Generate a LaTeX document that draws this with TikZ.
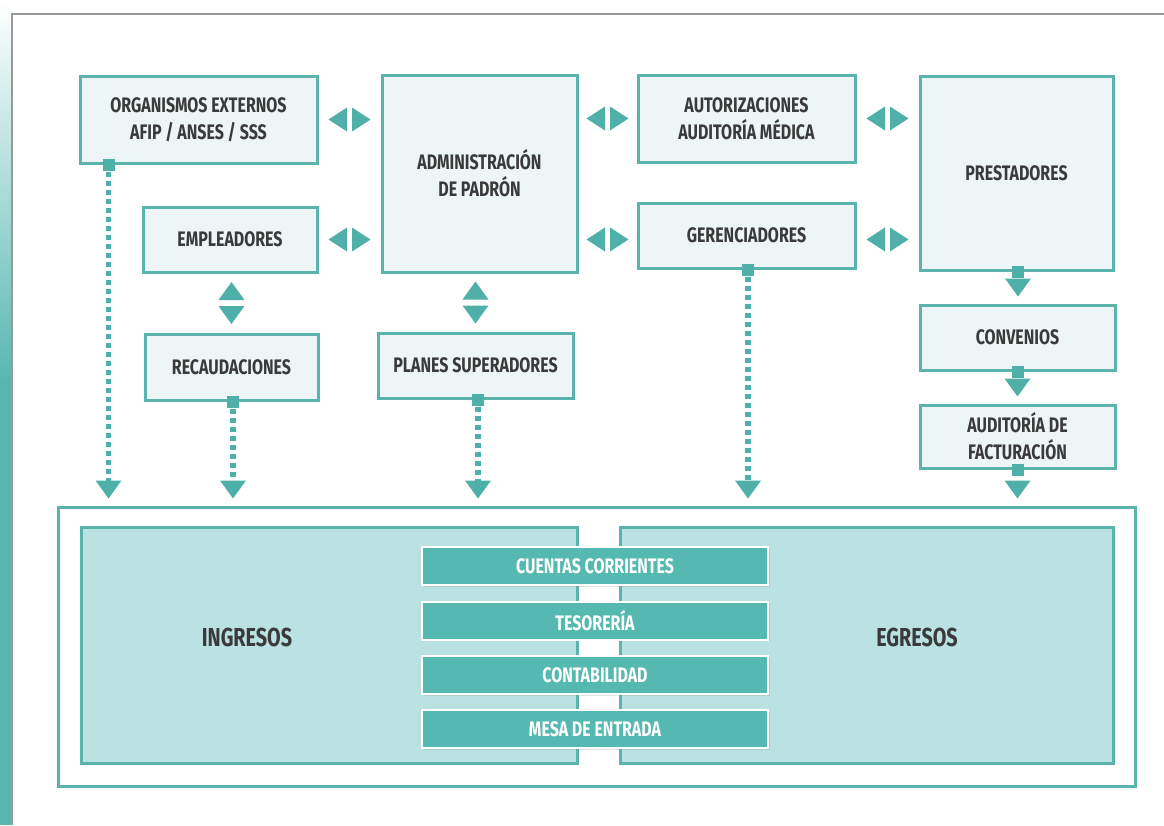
\documentclass[tikz,border=0pt]{standalone}
\usepackage{fontspec}
\setmainfont{Fira Sans}[FakeStretch=0.76]
\usetikzlibrary{calc,shadows}
\definecolor{tealB}{RGB}{90,180,172}
\definecolor{tealA}{RGB}{78,176,168}
\definecolor{barT}{RGB}{86,185,177}
\definecolor{panelT}{RGB}{186,226,226}
\definecolor{boxF}{RGB}{238,245,246}
\definecolor{txtG}{RGB}{58,58,58}
\definecolor{stripT}{RGB}{88,184,176}
\begin{document}
\begin{tikzpicture}[x=1pt,y=-1pt,
  box/.style={draw=tealB, line width=3pt, fill=boxF, text=txtG,
    font=\fontsize{21}{27}\selectfont\bfseries, align=center, inner sep=0pt,
    drop shadow={shadow xshift=1.5pt, shadow yshift=-1.5pt, opacity=0.18}},
  panel/.style={draw=tealB, line width=3pt, fill=panelT, inner sep=0pt},
  bigtxt/.style={text=txtG, font=\fontsize{26}{28}\selectfont\bfseries, inner sep=2pt},
  bar/.style={draw=white, line width=2pt, fill=barT, text=white,
    font=\fontsize{21}{22}\selectfont\bfseries, minimum width=346pt,
    minimum height=38pt, inner sep=0pt,
    drop shadow={shadow xshift=1.5pt, shadow yshift=-1.5pt, opacity=0.22}},
  sqmark/.style={fill=tealA, minimum size=12pt, inner sep=0pt},
  dotline/.style={draw=tealA, line width=5.5pt, dash pattern=on 5pt off 4pt},
  pics/hpair/.style={code={
    \fill[tealA] (-2.5,-12) -- (-21,0) -- (-2.5,12) -- cycle;
    \fill[tealA] (2.5,-12) -- (21,0) -- (2.5,12) -- cycle;}},
  pics/vpair/.style={code={
    \fill[tealA] (-13,-3) -- (0,-21) -- (13,-3) -- cycle;
    \fill[tealA] (-13,3) -- (0,21) -- (13,3) -- cycle;}},
  pics/tridown/.style={code={
    \fill[tealA] (-13,-18) -- (13,-18) -- (0,0) -- cycle;}}
]
\useasboundingbox (0,0) rectangle (1164,825);
\fill[white] (0,0) rectangle (1164,825);
% left strip and frame
\shade[top color=white, bottom color=stripT] (0,0) rectangle (11,380);
\fill[stripT] (0,380) rectangle (11,825);
\draw[black!40, line width=1.3pt] (12,825) -- (12,14) -- (1164,14);

% boxes
\node[box, minimum width=237pt, minimum height=87pt] (org) at (198.5,119.5) {ORGANISMOS EXTERNOS\\AFIP / ANSES / SSS};
\node[box, minimum width=174pt, minimum height=65pt] (empl) at (230,239.5) {EMPLEADORES};
\node[box, minimum width=173pt, minimum height=66pt] (recaud) at (231.5,367) {RECAUDACIONES};
\node[box, minimum width=195pt, minimum height=197pt] (admin) at (479.5,173.5) {ADMINISTRACIÓN\\DE PADRÓN};
\node[box, minimum width=195pt, minimum height=65pt] (planes) at (475.5,365.5) {PLANES SUPERADORES};
\node[box, minimum width=217pt, minimum height=87pt] (auth) at (746.5,118.5) {AUTORIZACIONES\\AUDITORÍA MÉDICA};
\node[box, minimum width=217pt, minimum height=65pt] (geren) at (746.5,235.5) {GERENCIADORES};
\node[box, minimum width=193pt, minimum height=194pt] (prest) at (1016.5,173.5) {PRESTADORES};
\node[box, minimum width=195pt, minimum height=65pt] (conv) at (1017.5,337.5) {CONVENIOS};
\node[box, minimum width=195pt, minimum height=63pt] (audfac) at (1017.5,436.5) {AUDITORÍA DE\\FACTURACIÓN};

% bottom block
\node[draw=tealB, line width=3pt, fill=white, minimum width=1077pt, minimum height=279pt, inner sep=0pt,
  drop shadow={shadow xshift=1.5pt, shadow yshift=-1.5pt, opacity=0.18}] (outer) at (596.5,646.5) {};
\node[panel, minimum width=496pt, minimum height=236pt] (ing) at (329,645) {};
\node[panel, minimum width=493pt, minimum height=236pt] (egr) at (866.5,645) {};
\node[bigtxt] (ingt) at (247,637) {INGRESOS};
\node[bigtxt] (egrt) at (917,637) {EGRESOS};
\node[bar] (cc) at (595,566) {CUENTAS CORRIENTES};
\node[bar] (tes) at (595,620.5) {TESORERÍA};
\node[bar] (cont) at (595,675) {CONTABILIDAD};
\node[bar] (mesa) at (595,729) {MESA DE ENTRADA};

% horizontal double arrows
\pic at ($(org.east)!0.5!(org.east -| admin.west)$) {hpair};
\pic at ($(empl.east)!0.5!(empl.east -| admin.west)$) {hpair};
\pic at ($(admin.east |- auth.west)!0.5!(auth.west)$) {hpair};
\pic at ($(admin.east |- empl.east)!0.5!(geren.west |- empl.east)$) {hpair};
\pic at ($(auth.east)!0.5!(auth.east -| prest.west)$) {hpair};
\pic at ($(geren.east |- empl.east)!0.5!(prest.west |- empl.east)$) {hpair};
% vertical double arrows
\pic at ($(recaud.north)!0.5!(recaud.north |- empl.south)$) {vpair};
\pic at ($(planes.north)!0.5!(planes.north |- admin.south)$) {vpair};

% dotted connectors to bottom block
\coordinate (o1) at ($(org.south west)+(30,0)$);
\coordinate (r1) at ($(recaud.south)+(1.5,0)$);
\coordinate (p1) at ($(planes.south)+(2.5,0)$);
\coordinate (g1) at ($(geren.south)+(1.5,0)$);
\foreach \c in {o1,r1,p1,g1} {
  \node[sqmark] at (\c) {};
  \draw[dotline] ($(\c)+(0,7)$) -- ($(\c |- outer.north)+(0,-24)$);
  \pic at ($(\c |- outer.north)+(0,-7)$) {tridown};
}
% prestadores chain
\coordinate (c1) at ($(prest.south)+(1.5,0)$);
\node[sqmark] at (c1) {};
\pic at ($(c1 |- conv.north)+(0,-7)$) {tridown};
\node[sqmark] at (conv.south) {};
\pic at ($(conv.south |- audfac.north)+(0,-7)$) {tridown};
\node[sqmark] at (audfac.south) {};
\pic at ($(audfac.south |- outer.north)+(0,-7)$) {tridown};
\end{tikzpicture}
\end{document}
